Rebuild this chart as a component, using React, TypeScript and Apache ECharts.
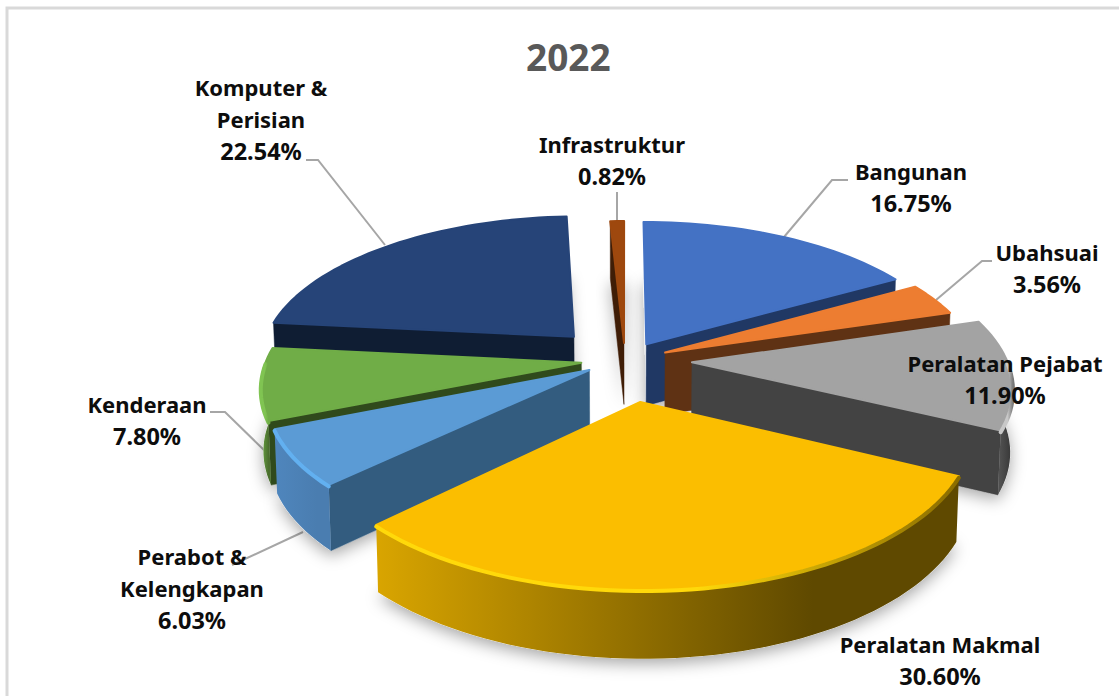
import React, { useEffect, useRef } from "react";
import * as echarts from "echarts";

const titleText = "2022";
const sliceNames = ["Bangunan", "Ubahsuai", "Peralatan Pejabat", "Peralatan Makmal", "Perabot &\nKelengkapan", "Kenderaan", "Komputer &\nPerisian", "Infrastruktur"];
const sliceValues = [16.75, 3.56, 11.9, 30.6, 6.03, 7.8, 22.54, 0.82];

// Styling and layout, kept apart from the values
const topColors = ["#4472C4", "#ED7D31", "#A3A3A3", "#FBBE00", "#5B9BD5", "#70AD47", "#264478", "#9E480E"];
const wallColors = ["#203864", "#5F3214", "#434343", "#5F4900", "#335C7F", "#304A1C", "#0F1D33", "#3F1D06"];
const outerFrom = ["#203864", "#5F3214", "#555555", "#D9A500", "#4F86BD", "#6AA544", "#0F1D33", "#3F1D06"];
const outerTo = ["#203864", "#5F3214", "#3C3C3C", "#5F4900", "#4A7DB0", "#4A6F2E", "#0F1D33", "#3F1D06"];
const rimColors = ["#4472C4", "#ED7D31", "#C8C8C8", "#FFD90A", "#62B0F0", "#80C452", "#264478", "#9E480E"];
const rimEnd = ["#4472C4", "#ED7D31", "#777777", "#8A6C00", "#62B0F0", "#70AD47", "#264478", "#9E480E"];
const explode = [43, 44, 67, 94, 42, 44, 76, 40];
const zRank = [1, 2, 4, 7, 6, 3, 0, 5];
const labelBoxes: [number, number][] = [[911, 187], [1047, 268], [1005, 379], [940, 660], [192, 588], [147, 420], [261, 119], [612, 160]];
const leaderLines: number[][][] = [
  [[784, 237], [832, 180], [848, 180]],
  [[936, 300], [982, 261], [992, 261]],
  [],
  [],
  [[303, 532], [232, 565]],
  [[210, 412], [225, 412], [266, 452]],
  [[306, 160], [318, 160], [385, 245]],
  [[617, 192], [617, 221]],
];

const CX = 625, CY = 360, RX = 315, RY = 335, PERSP = 0.00045, TILT = 0.433, DEPTH = 62;

function project(xw: number, yw: number, drop: number): number[] {
  const s = 1 / (1 + PERSP * yw);
  return [
    CX + xw * s * (1 - drop * 0.00012),
    CY - TILT * yw * s + drop * (1 + (s - 1) * 0.5),
  ];
}

const rad = (d: number) => (d * Math.PI) / 180;
const total = sliceValues.reduce((a, b) => a + b, 0);

function renderSlice(params: any, api: any) {
  const i = params.dataIndex;
  const value = api.value(0);
  let before = 0;
  for (let k = 0; k < i; k++) before += sliceValues[k];
  const a1 = (before / total) * 360;
  const a2 = ((before + value) / total) * 360;
  const mid = rad((a1 + a2) / 2);
  const ox = explode[i] * Math.sin(mid);
  const oy = explode[i] * Math.cos(mid);
  const at = (deg: number, rim: boolean, drop: number) =>
    project(ox + (rim ? RX * Math.sin(rad(deg)) : 0), oy + (rim ? RY * Math.cos(rad(deg)) : 0), drop);
  const arc = (from: number, to: number, drop: number) => {
    const n = Math.max(2, Math.ceil(Math.abs(to - from) / 2));
    const pts: number[][] = [];
    for (let j = 0; j <= n; j++) pts.push(at(from + ((to - from) * j) / n, true, drop));
    return pts;
  };
  const apexTop = at(0, false, 0);
  const apexBot = at(0, false, DEPTH);
  const base = 10 + zRank[i] * 10;
  const children: any[] = [];
  children.push({
    type: "polygon",
    z2: 1,
    shape: { points: [apexBot, ...arc(a1, a2, DEPTH)] },
    style: { fill: "#ffffff", shadowBlur: 16, shadowColor: "rgba(0,0,0,0.35)", shadowOffsetY: 5 },
  });
  const wall = (deg: number, k: number) =>
    children.push({
      type: "polygon",
      z2: base + k,
      shape: { points: [apexTop, at(deg, true, 0), at(deg, true, DEPTH), apexBot] },
      style: { fill: wallColors[i], stroke: wallColors[i], lineWidth: 0.5 },
    });
  if (Math.sin(rad(a1)) < -1e-6) wall(a1, 1);
  if (Math.sin(rad(a2)) > 1e-6) wall(a2, 2);
  const f1 = Math.max(a1, 90);
  const f2 = Math.min(a2, 270);
  if (f2 > f1) {
    const upper = arc(f1, f2, 0);
    const lower = arc(f1, f2, DEPTH);
    children.push({
      type: "polygon",
      z2: base + 3,
      shape: { points: [...upper, ...lower.slice().reverse()] },
      style: {
        fill: new echarts.graphic.LinearGradient(0, 0, 1, 0, [
          { offset: 0, color: outerFrom[i] },
          { offset: 0.75, color: outerTo[i] },
          { offset: 1, color: outerTo[i] },
        ]),
      },
    });
  }
  children.push({
    type: "polygon",
    z2: base + 4,
    shape: { points: [apexTop, ...arc(a1, a2, 0)] },
    style: { fill: topColors[i], stroke: topColors[i], lineWidth: 2, lineJoin: "round" },
  });
  if (f2 > f1) {
    children.push({
      type: "polyline",
      z2: base + 5,
      shape: { points: arc(f1, f2, 1.5) },
      style: {
        fill: null,
        lineWidth: 4,
        lineCap: "round",
        stroke: new echarts.graphic.LinearGradient(0, 0, 1, 0, [
          { offset: 0, color: rimColors[i] },
          { offset: 0.55, color: rimColors[i] },
          { offset: 1, color: rimEnd[i] },
        ]),
      },
    });
  }
  return { type: "group", children };
}

const fontFamily = "'Noto Sans', sans-serif";
const labelColor = "#0D0D0D";

export default function App() {
  const ref = useRef<HTMLDivElement>(null);
  useEffect(() => {
    document.body.style.margin = "0";
    const chart = echarts.init(ref.current!, null, { renderer: "svg" });
    const labels = sliceNames.map((n, i) => ({
      type: "text",
      z: 20,
      x: labelBoxes[i][0],
      y: labelBoxes[i][1],
      style: {
        text: `${n.split("\n").map((part) => `{n|${part}}`).join("\n")}\n{v|${sliceValues[i].toFixed(2)}%}`,
        textAlign: "center",
        textVerticalAlign: "middle",
        rich: {
          n: { fontFamily, fontWeight: 700, fontSize: 22, lineHeight: 32, fill: labelColor, color: labelColor },
          v: { fontFamily, fontWeight: 700, fontSize: 23.5, lineHeight: 32, fill: labelColor, color: labelColor },
        },
      },
    }));
    const leaders = leaderLines
      .filter((l) => l.length > 0)
      .map((l) => ({
        type: "polyline",
        z: 1,
        shape: { points: l },
        style: { stroke: "#A6A6A6", lineWidth: 2, fill: null },
      }));
    chart.setOption({
      animation: false,
      backgroundColor: "#ffffff",
      title: {
        text: titleText,
        left: 521,
        top: 33,
        textStyle: { color: "#595959", fontFamily, fontWeight: 700, fontSize: 37 },
      },
      graphic: [
        {
          type: "rect",
          z: 0,
          shape: { x: 7, y: 8, width: 1200, height: 800 },
          style: { fill: "#ffffff", stroke: "#D9D9D9", lineWidth: 3 },
        },
        ...leaders,
        ...labels,
      ],
      series: [
        {
          type: "custom",
          coordinateSystem: "none",
          z: 5,
          renderItem: renderSlice,
          data: sliceValues.map((v, i) => ({ name: sliceNames[i], value: [v] })),
        },
      ],
    });
    return () => chart.dispose();
  }, []);
  return <div ref={ref} style={{ width: 1119, height: 696 }} />;
}
